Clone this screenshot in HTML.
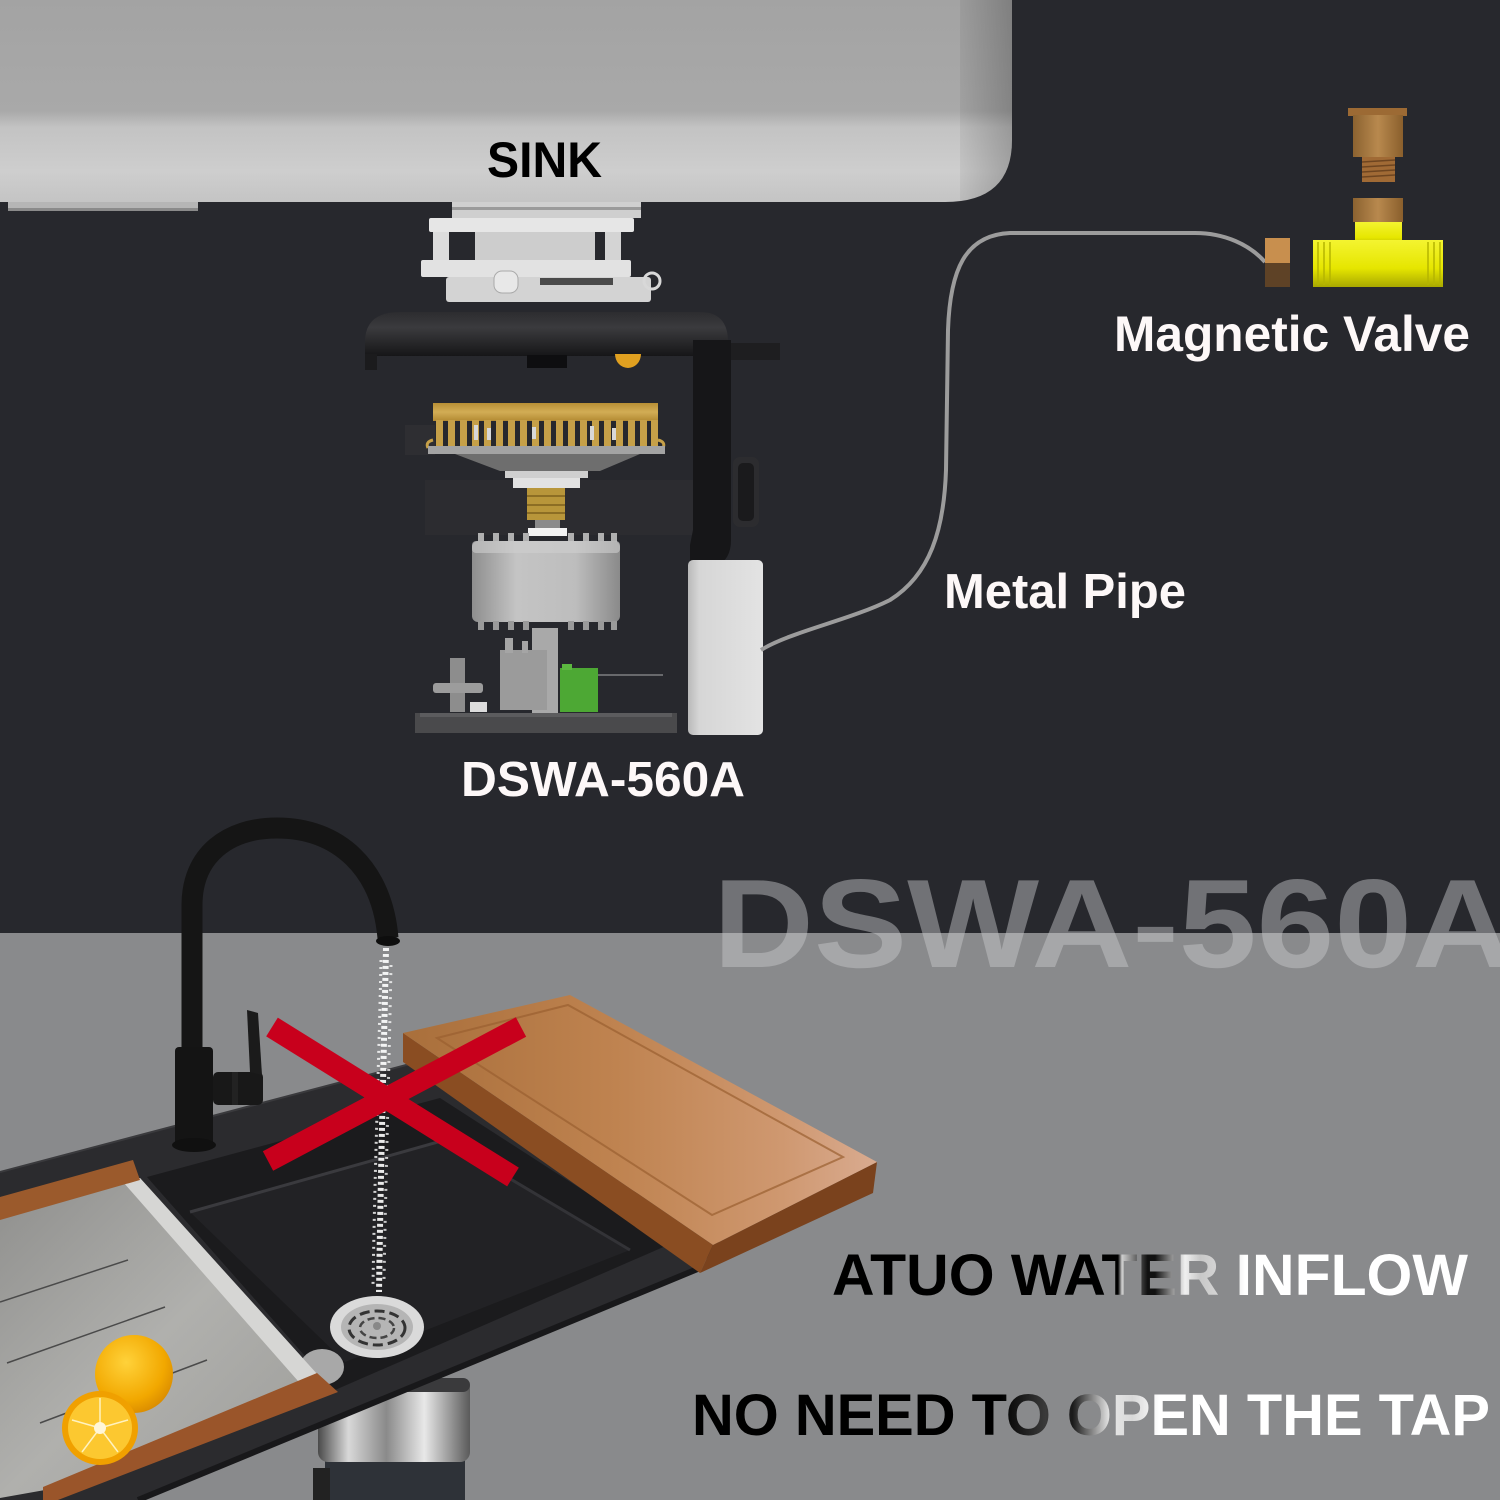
<!DOCTYPE html>
<html><head><meta charset="utf-8"><style>
html,body{margin:0;padding:0;background:#27282d;}
svg{display:block;}
text{font-family:"Liberation Sans",Arial,sans-serif;font-weight:bold;}
</style></head><body>
<svg width="1500" height="1500" viewBox="0 0 1500 1500" xmlns="http://www.w3.org/2000/svg">
<defs>
<linearGradient id="sinkG" x1="0" y1="0" x2="0" y2="1">
<stop offset="0" stop-color="#a3a3a3"/><stop offset="0.55" stop-color="#a9a9a9"/><stop offset="0.63" stop-color="#c3c3c3"/><stop offset="0.85" stop-color="#cecece"/><stop offset="1" stop-color="#c4c4c4"/></linearGradient>
<linearGradient id="sinkR" x1="0" y1="0" x2="1" y2="0">
<stop offset="0" stop-color="#000" stop-opacity="0"/><stop offset="1" stop-color="#000" stop-opacity="0.22"/></linearGradient>
<linearGradient id="domeG" x1="0" y1="0" x2="0" y2="1">
<stop offset="0" stop-color="#2c2c2f"/><stop offset="0.35" stop-color="#3b3b3e"/><stop offset="1" stop-color="#161618"/></linearGradient>
<linearGradient id="goldG" x1="0" y1="0" x2="0" y2="1">
<stop offset="0" stop-color="#b88f35"/><stop offset="0.5" stop-color="#d2ad55"/><stop offset="1" stop-color="#b38a33"/></linearGradient>
<linearGradient id="motorG" x1="0" y1="0" x2="1" y2="0">
<stop offset="0" stop-color="#8e8e8e"/><stop offset="0.3" stop-color="#c4c4c4"/><stop offset="0.7" stop-color="#bdbdbd"/><stop offset="1" stop-color="#8a8a8a"/></linearGradient>
<linearGradient id="boxG" x1="0" y1="0" x2="1" y2="0">
<stop offset="0" stop-color="#b9b9b9"/><stop offset="0.15" stop-color="#d6d6d6"/><stop offset="1" stop-color="#e3e3e3"/></linearGradient>
<linearGradient id="brassG" x1="0" y1="0" x2="1" y2="0">
<stop offset="0" stop-color="#8b6230"/><stop offset="0.5" stop-color="#b8894e"/><stop offset="1" stop-color="#8a5f2c"/></linearGradient>
<linearGradient id="yelG" x1="0" y1="0" x2="0" y2="1">
<stop offset="0" stop-color="#f4f430"/><stop offset="0.6" stop-color="#e6e600"/><stop offset="1" stop-color="#a8a800"/></linearGradient>
<linearGradient id="boardG" x1="403" y1="0" x2="877" y2="0" gradientUnits="userSpaceOnUse">
<stop offset="0" stop-color="#a96f3b"/><stop offset="0.45" stop-color="#bf8350"/><stop offset="0.8" stop-color="#cf9870"/><stop offset="1" stop-color="#d9ab90"/></linearGradient>
<linearGradient id="steelG" x1="0" y1="0" x2="1" y2="1">
<stop offset="0" stop-color="#8f8f8d"/><stop offset="0.5" stop-color="#b0b0ad"/><stop offset="1" stop-color="#9c9c99"/></linearGradient>
<linearGradient id="dispG" x1="0" y1="0" x2="1" y2="0">
<stop offset="0" stop-color="#4a4a4a"/><stop offset="0.2" stop-color="#d8d8d8"/><stop offset="0.45" stop-color="#8a8a8a"/><stop offset="0.7" stop-color="#e8e8e8"/><stop offset="1" stop-color="#5a5a5a"/></linearGradient>
<radialGradient id="orG" cx="0.4" cy="0.35" r="0.7">
<stop offset="0" stop-color="#ffd23a"/><stop offset="0.7" stop-color="#f2a800"/><stop offset="1" stop-color="#d88a00"/></radialGradient>
<linearGradient id="atuoG" x1="0" y1="0" x2="1500" y2="0" gradientUnits="userSpaceOnUse">
<stop offset="0" stop-color="#000"/><stop offset="0.7453" stop-color="#000"/><stop offset="0.748" stop-color="#cfcfcf"/><stop offset="0.765" stop-color="#111"/><stop offset="0.77" stop-color="#111"/><stop offset="0.79" stop-color="#f0f0f0"/><stop offset="0.80" stop-color="#c8c8c8"/><stop offset="0.817" stop-color="#dadada"/><stop offset="0.83" stop-color="#fff"/><stop offset="1" stop-color="#fff"/></linearGradient>
<linearGradient id="noG" x1="0" y1="0" x2="1500" y2="0" gradientUnits="userSpaceOnUse">
<stop offset="0" stop-color="#000"/><stop offset="0.667" stop-color="#000"/><stop offset="0.697" stop-color="#3a3a3a"/><stop offset="0.715" stop-color="#1a1a1a"/><stop offset="0.74" stop-color="#e8e8e8"/><stop offset="0.755" stop-color="#d8d8d8"/><stop offset="0.773" stop-color="#fff"/><stop offset="1" stop-color="#fff"/></linearGradient>
<clipPath id="cTop"><rect x="0" y="0" width="1500" height="933"/></clipPath>
<clipPath id="cBot"><rect x="0" y="933" width="1500" height="567"/></clipPath>
</defs>

<!-- backgrounds -->
<rect x="0" y="0" width="1500" height="933" fill="#27282d"/>
<rect x="0" y="933" width="1500" height="567" fill="#898a8c"/>

<!-- SINK -->
<path d="M0,0 H1012 V140 Q1012,202 945,202 H0 Z" fill="url(#sinkG)"/>
<path d="M960,0 H1012 V140 Q1012,202 945,202 H960 Z" fill="url(#sinkR)"/>
<rect x="8" y="202" width="190" height="9" fill="#b5b5b5"/>
<rect x="8" y="208" width="190" height="3" fill="#8a8a8a"/>
<text x="487" y="177" font-size="50" fill="#000" textLength="115" lengthAdjust="spacingAndGlyphs">SINK</text>

<!-- flange -->
<rect x="452" y="202" width="189" height="16" fill="#cfcfcf"/>
<rect x="452" y="207" width="189" height="3" fill="#9a9a9a"/>
<rect x="429" y="218" width="205" height="14" rx="2" fill="#e6e6e6"/>
<rect x="433" y="232" width="16" height="29" fill="#dcdcdc"/>
<rect x="605" y="232" width="16" height="29" fill="#d4d4d4"/>
<rect x="475" y="232" width="120" height="28" fill="#cdcdcd"/>
<rect x="421" y="260" width="210" height="17" rx="2" fill="#e2e2e2"/>
<rect x="446" y="277" width="205" height="25" rx="3" fill="#d3d3d3"/>
<rect x="540" y="278" width="73" height="7" fill="#4a4a4a"/>
<rect x="494" y="271" width="24" height="22" rx="8" fill="#e8e8e8" stroke="#aaa" stroke-width="1"/>
<circle cx="652" cy="281" r="8" fill="none" stroke="#d8d8d8" stroke-width="3"/>

<!-- ghost shapes -->
<rect x="405" y="425" width="30" height="30" fill="#2e2e32"/>
<rect x="425" y="480" width="270" height="55" fill="#2c2c30"/>

<!-- housing -->
<path d="M365,356 L365,342 Q365,312 400,312 L700,312 Q728,312 728,342 L728,356 Z" fill="url(#domeG)"/>
<rect x="365" y="354" width="12" height="16" fill="#1b1b1d"/>
<rect x="728" y="343" width="52" height="17" fill="#1e1e20"/>
<path d="M693,340 H731 V540 Q731,560 716,566 L706,585 H690 V545 L693,530 Z" fill="#161618"/>
<rect x="733" y="457" width="26" height="70" rx="7" fill="#2c2c2f"/>
<rect x="738" y="463" width="16" height="58" rx="5" fill="#1a1a1c"/>
<path d="M615,354 A13,14 0 0 0 641,354 Z" fill="#e0a020"/>
<rect x="527" y="355" width="40" height="13" fill="#0e0e10"/>

<!-- gold grinding ring -->
<rect x="433" y="403" width="225" height="18" fill="url(#goldG)"/>
<g fill="#c6a048">
<rect x="436" y="420" width="7" height="26"/><rect x="448" y="420" width="7" height="26"/><rect x="460" y="420" width="7" height="26"/><rect x="472" y="420" width="7" height="26"/><rect x="484" y="420" width="7" height="26"/><rect x="496" y="420" width="7" height="26"/><rect x="508" y="420" width="7" height="26"/><rect x="520" y="420" width="7" height="26"/><rect x="532" y="420" width="7" height="26"/><rect x="544" y="420" width="7" height="26"/><rect x="556" y="420" width="7" height="26"/><rect x="568" y="420" width="7" height="26"/><rect x="580" y="420" width="7" height="26"/><rect x="592" y="420" width="7" height="26"/><rect x="604" y="420" width="7" height="26"/><rect x="616" y="420" width="7" height="26"/><rect x="628" y="420" width="7" height="26"/><rect x="640" y="420" width="7" height="26"/><rect x="651" y="420" width="7" height="26"/>
</g>
<g fill="#d8d8d8">
<rect x="474" y="425" width="4" height="15"/><rect x="487" y="428" width="4" height="12"/><rect x="532" y="427" width="4" height="12"/><rect x="590" y="426" width="4" height="14"/><rect x="612" y="428" width="4" height="12"/>
</g>
<path d="M433,440 q-8,2 -5,8" stroke="#c6a048" stroke-width="3" fill="none"/>
<path d="M658,440 q8,2 5,8" stroke="#c6a048" stroke-width="3" fill="none"/>
<rect x="428" y="446" width="237" height="8" fill="#a3a3a3"/>
<polygon points="455,454 640,454 600,471 500,471" fill="#6e6e6e"/>
<rect x="505" y="471" width="83" height="7" fill="#cfcfcf"/>
<rect x="513" y="478" width="67" height="10" fill="#e2e2e2"/>
<rect x="527" y="488" width="38" height="32" fill="#b8963a"/>
<g stroke="#8c6e24" stroke-width="2"><line x1="527" y1="496" x2="565" y2="496"/><line x1="527" y1="505" x2="565" y2="505"/><line x1="527" y1="513" x2="565" y2="513"/></g>
<rect x="535" y="520" width="25" height="8" fill="#8a8a8a"/>
<rect x="528" y="528" width="39" height="8" fill="#f2f2f2"/>

<!-- motor -->
<g fill="#b0b0b0">
<rect x="478" y="533" width="6" height="9"/><rect x="493" y="533" width="6" height="9"/><rect x="508" y="533" width="6" height="9"/><rect x="523" y="533" width="6" height="9"/><rect x="568" y="533" width="6" height="9"/><rect x="583" y="533" width="6" height="9"/><rect x="598" y="533" width="6" height="9"/><rect x="611" y="533" width="6" height="9"/>
</g>
<rect x="472" y="541" width="148" height="81" rx="6" fill="url(#motorG)"/>
<rect x="472" y="541" width="148" height="12" rx="4" fill="#cfcfcf" opacity="0.6"/>
<g fill="#9a9a9a">
<rect x="478" y="621" width="6" height="9"/><rect x="493" y="621" width="6" height="9"/><rect x="508" y="621" width="6" height="9"/><rect x="523" y="621" width="6" height="9"/><rect x="568" y="621" width="6" height="9"/><rect x="583" y="621" width="6" height="9"/><rect x="598" y="621" width="6" height="9"/><rect x="611" y="621" width="6" height="9"/>
</g>
<rect x="532" y="628" width="26" height="85" fill="#a9a9a9"/>
<rect x="500" y="650" width="47" height="60" fill="#9b9b9b"/>
<rect x="505" y="638" width="8" height="15" fill="#a5a5a5"/>
<rect x="522" y="641" width="6" height="12" fill="#a5a5a5"/>
<rect x="560" y="668" width="38" height="44" fill="#4da834"/>
<rect x="562" y="664" width="10" height="6" fill="#5cb840"/>
<line x1="598" y1="675" x2="663" y2="675" stroke="#aaa" stroke-width="1"/>
<rect x="450" y="658" width="15" height="54" fill="#8d8d8d"/>
<rect x="433" y="683" width="50" height="10" rx="3" fill="#9c9c9c"/>
<rect x="470" y="702" width="17" height="10" fill="#dcdcdc"/>
<rect x="415" y="713" width="262" height="20" fill="#4a4a4c"/>
<rect x="420" y="713" width="252" height="4" fill="#5c5c5e"/>

<!-- control box -->
<rect x="688" y="560" width="75" height="175" rx="5" fill="url(#boxG)"/>

<!-- metal pipe -->
<path d="M761,650 C790,632 850,620 890,600 C930,575 944,530 946,470 L948,330 C950,270 965,235 1010,233 L1195,233 C1225,233 1250,245 1265,262" stroke="#9c9c9c" stroke-width="4" fill="none"/>

<!-- valve -->
<rect x="1265" y="238" width="25" height="25" fill="#c88f4e"/>
<rect x="1265" y="263" width="25" height="24" fill="#5e4226"/>
<rect x="1348" y="108" width="59" height="8" fill="#9c6a34"/>
<rect x="1353" y="115" width="50" height="42" fill="url(#brassG)"/>
<rect x="1362" y="157" width="33" height="25" fill="#a06a35"/>
<g stroke="#6e4520" stroke-width="1.5"><line x1="1362" y1="162" x2="1395" y2="160"/><line x1="1362" y1="167" x2="1395" y2="165"/><line x1="1362" y1="172" x2="1395" y2="170"/><line x1="1362" y1="177" x2="1395" y2="175"/></g>
<rect x="1353" y="198" width="50" height="24" fill="url(#brassG)"/>
<rect x="1355" y="222" width="47" height="26" fill="url(#yelG)"/>
<rect x="1313" y="240" width="130" height="47" fill="url(#yelG)"/>
<g stroke="#b5b500" stroke-width="1.5"><line x1="1318" y1="242" x2="1318" y2="285"/><line x1="1324" y1="242" x2="1324" y2="285"/><line x1="1330" y1="242" x2="1330" y2="285"/><line x1="1428" y1="242" x2="1428" y2="285"/><line x1="1434" y1="242" x2="1434" y2="285"/><line x1="1440" y1="242" x2="1440" y2="285"/></g>

<!-- labels top -->
<text x="1114" y="351" font-size="50" fill="#fdf8f8" textLength="356" lengthAdjust="spacingAndGlyphs">Magnetic Valve</text>
<text x="944" y="608" font-size="49" fill="#fdf8f8" textLength="242" lengthAdjust="spacingAndGlyphs">Metal Pipe</text>
<text x="461" y="796" font-size="49" fill="#fdf8f8" textLength="284" lengthAdjust="spacingAndGlyphs">DSWA-560A</text>

<!-- big watermark -->
<g clip-path="url(#cTop)"><text x="713" y="967" font-size="126" fill="#717276" textLength="800" lengthAdjust="spacingAndGlyphs">DSWA-560A</text></g>
<g clip-path="url(#cBot)"><text x="713" y="967" font-size="126" fill="#a6a7a9" textLength="800" lengthAdjust="spacingAndGlyphs">DSWA-560A</text></g>

<!-- disposer below sink -->
<rect x="325" y="1450" width="140" height="50" fill="#2e3238"/>
<rect x="313" y="1468" width="17" height="32" fill="#222"/>
<rect x="318" y="1378" width="152" height="84" rx="10" fill="url(#dispG)"/>
<rect x="318" y="1378" width="152" height="14" rx="7" fill="#3a3a3c"/>

<!-- counter -->
<polygon points="0,1172 410,1064 720,1240 700,1268 138,1500 0,1500" fill="#2b2b2e"/>
<line x1="700" y1="1268" x2="138" y2="1500" stroke="#18181a" stroke-width="6"/>
<line x1="0" y1="1172" x2="410" y2="1064" stroke="#3a3a3d" stroke-width="2"/>
<!-- basin -->
<polygon points="147,1177 440,1098 668,1245 335,1390" fill="#1b1b1d"/>
<polygon points="190,1212 445,1140 630,1250 345,1362" fill="#222225"/>
<line x1="190" y1="1212" x2="445" y2="1140" stroke="#3a3a3e" stroke-width="3"/>
<line x1="445" y1="1140" x2="630" y2="1250" stroke="#333337" stroke-width="3"/>
<!-- drains -->
<ellipse cx="322" cy="1367" rx="22" ry="18" fill="#a8a8a8"/>
<ellipse cx="377" cy="1327" rx="47" ry="31" fill="#dadada"/>
<ellipse cx="377" cy="1327" rx="36" ry="23" fill="#b5b5b5"/>
<ellipse cx="377" cy="1328" rx="28" ry="17" fill="none" stroke="#333" stroke-width="3" stroke-dasharray="10 5"/>
<ellipse cx="377" cy="1328" rx="17" ry="10" fill="none" stroke="#444" stroke-width="2.5" stroke-dasharray="7 4"/>
<circle cx="377" cy="1326" r="4" fill="#888"/>

<!-- colander -->
<polygon points="0,1218 140,1178 318,1375 45,1490 0,1498" fill="url(#steelG)"/>
<polygon points="123,1182 140,1178 318,1375 298,1381" fill="#d6d6d4"/>
<g stroke="#4a4a4a" stroke-width="1.5"><line x1="0" y1="1302" x2="128" y2="1260"/><line x1="7" y1="1363" x2="165" y2="1307"/><line x1="40" y1="1423" x2="207" y2="1360"/></g>
<polygon points="0,1197 133,1160 140,1180 0,1220" fill="#9b5a2c"/>
<polygon points="43,1487 317,1373 338,1392 58,1500 43,1500" fill="#9a552a"/>
<!-- oranges -->
<circle cx="134" cy="1374" r="39" fill="url(#orG)"/>
<ellipse cx="100" cy="1428" rx="38" ry="37" fill="#f0a000"/>
<ellipse cx="100" cy="1428" rx="32" ry="31" fill="#fcc830"/>
<g stroke="#fff2c0" stroke-width="1.5"><line x1="100" y1="1428" x2="100" y2="1398"/><line x1="100" y1="1428" x2="128" y2="1420"/><line x1="100" y1="1428" x2="118" y2="1452"/><line x1="100" y1="1428" x2="82" y2="1452"/><line x1="100" y1="1428" x2="72" y2="1420"/></g>
<circle cx="100" cy="1428" r="6" fill="#fff6d8"/>

<!-- faucet -->
<path d="M192,1055 L192,905 C192,855 228,828 277,828 C338,828 382,868 388,938" stroke="#151515" stroke-width="21" fill="none"/>
<ellipse cx="388" cy="941" rx="12" ry="5" fill="#0e0e0e"/>
<rect x="213" y="1072" width="50" height="33" rx="5" fill="#181818"/>
<rect x="232" y="1072" width="6" height="33" fill="#222"/>
<polygon points="247,1010 258,1013 262,1075 250,1072" fill="#1b1b1b"/>
<rect x="175" y="1047" width="38" height="100" rx="4" fill="#141414"/>
<ellipse cx="194" cy="1145" rx="22" ry="7" fill="#101010"/>

<!-- cutting board -->
<polygon points="403,1033 713,1245 700,1273 403,1062" fill="#8a4d22"/>
<polygon points="713,1245 877,1162 873,1193 700,1273" fill="#7a421d"/>
<polygon points="403,1033 570,995 877,1162 713,1245" fill="url(#boardG)"/>
<polygon points="437,1038 568,1005 843,1157 712,1215" fill="none" stroke="#9a6030" stroke-width="2" opacity="0.7"/>

<!-- water -->
<g fill="none" stroke="#fff">
<path d="M386,948 C384,1050 381,1150 379,1292" stroke-width="6" stroke-dasharray="3 3" opacity="0.9"/>
<path d="M381,960 C379,1060 375,1160 373,1285" stroke-width="3" stroke-dasharray="2 5" opacity="0.8"/>
<path d="M391,965 C389,1070 386,1170 384,1280" stroke-width="3" stroke-dasharray="2 6" opacity="0.75"/>
</g>

<!-- red X -->
<line x1="272" y1="1027" x2="513" y2="1177" stroke="#c8001c" stroke-width="22"/>
<line x1="521" y1="1027" x2="268" y2="1161" stroke="#c8001c" stroke-width="22"/>

<!-- bottom texts -->
<text x="832" y="1295" font-size="58" fill="url(#atuoG)" textLength="636" lengthAdjust="spacingAndGlyphs">ATUO WATER INFLOW</text>
<text x="692" y="1435" font-size="58" fill="url(#noG)" textLength="798" lengthAdjust="spacingAndGlyphs">NO NEED TO OPEN THE TAP</text>
</svg>
</body></html>
